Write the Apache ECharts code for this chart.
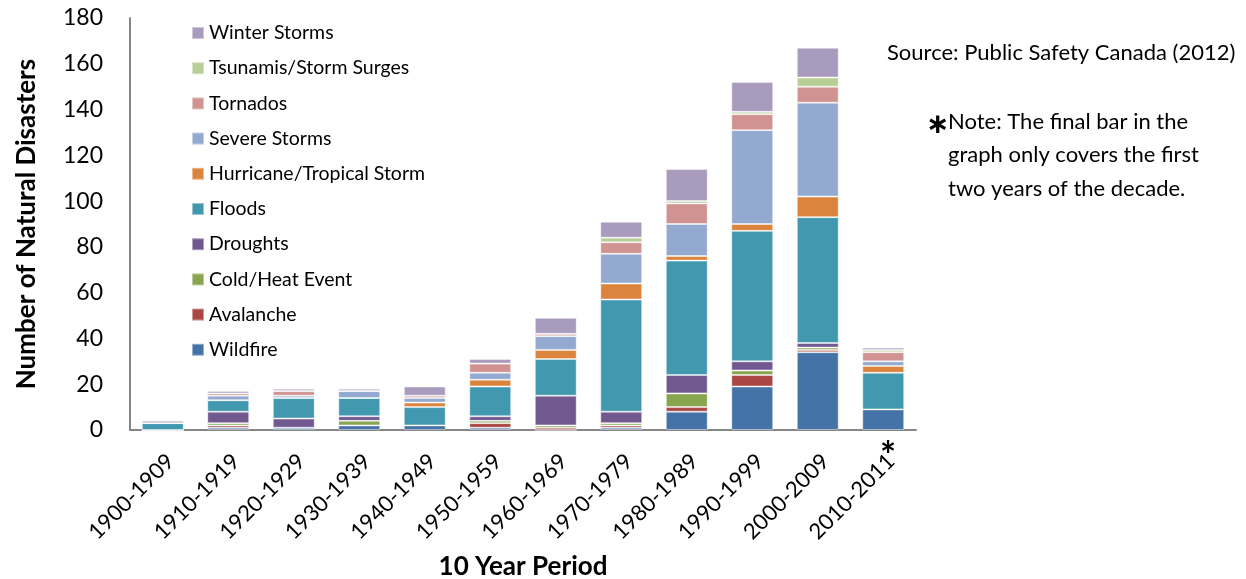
<!DOCTYPE html>
<html>
<head>
<meta charset="utf-8">
<script src="https://cdn.jsdelivr.net/npm/echarts@6/dist/echarts.min.js"></script>
<style>
html,body{margin:0;padding:0;background:#fff;}
#chart{width:1246px;height:579px;}
</style>
</head>
<body>
<div id="chart"></div>
<script>
const categories = ['1900-1909','1910-1919','1920-1929','1930-1939','1940-1949','1950-1959','1960-1969','1970-1979','1980-1989','1990-1999','2000-2009','2010-2011'];
const wildfire   = [0, 1, 1, 2, 2, 1, 0, 1, 8, 19, 34, 9];
const avalanche  = [0, 1, 0, 0, 0, 2, 1, 1, 2, 5, 1, 0];
const coldHeat   = [0, 1, 0, 2, 0, 1, 1, 1, 6, 2, 1, 0];
const droughts   = [0, 5, 4, 2, 0, 2, 13, 5, 8, 4, 2, 0];
const floods     = [3, 5, 9, 8, 8, 13, 16, 49, 50, 57, 55, 16];
const hurricane  = [0, 0, 0, 0, 2, 3, 4, 7, 2, 3, 9, 3];
const severe     = [0, 2, 1, 3, 2, 3, 6, 13, 14, 41, 41, 2];
const tornados   = [0, 1, 2, 0, 1, 4, 1, 5, 9, 7, 7, 4];
const tsunamis   = [0, 0, 0, 0, 0, 0, 0, 2, 1, 1, 4, 1];
const winter     = [1, 1, 1, 1, 4, 2, 7, 7, 14, 13, 13, 1];
const yTicks = [0, 20, 40, 60, 80, 100, 120, 140, 160, 180];

const seriesDefs = [
  ['Wildfire', wildfire, '#4572A7'],
  ['Avalanche', avalanche, '#AA4643'],
  ['Cold/Heat Event', coldHeat, '#89A54E'],
  ['Droughts', droughts, '#71588F'],
  ['Floods', floods, '#4198AF'],
  ['Hurricane/Tropical Storm', hurricane, '#DB843D'],
  ['Severe Storms', severe, '#93A9CF'],
  ['Tornados', tornados, '#D19392'],
  ['Tsunamis/Storm Surges', tsunamis, '#B9CD96'],
  ['Winter Storms', winter, '#A99BBD']
];

const FONT = 'Lato, "Open Sans", sans-serif';
const chart = echarts.init(document.getElementById('chart'), null, {renderer: 'canvas'});

const option = {
  backgroundColor: '#fff',
  animation: false,
  textStyle: {fontFamily: FONT},
  grid: {left: 130, right: 330, top: 18, bottom: 149, containLabel: false, outerBoundsMode: 'none'},
  legend: {
    orient: 'vertical',
    left: 186,
    top: 17,
    itemWidth: 12,
    itemHeight: 12,
    itemGap: 13.2,
    icon: 'rect',
    data: seriesDefs.map(d => d[0]).reverse(),
    textStyle: {fontFamily: FONT, fontSize: 19.5, color: '#000', lineHeight: 22}
  },
  xAxis: {
    type: 'category',
    data: categories,
    name: '10 Year Period',
    nameLocation: 'middle',
    nameGap: 124,
    nameTextStyle: {fontFamily: FONT, fontSize: 26, fontWeight: 'bold', color: '#000'},
    axisLine: {show: true, lineStyle: {color: '#868686', width: 2}},
    axisTick: {show: false},
    axisLabel: {rotate: 45, fontSize: 22, color: '#000', margin: 20, verticalAlign: 'top', fontFamily: FONT, interval: 0}
  },
  yAxis: {
    type: 'value',
    min: yTicks[0],
    max: yTicks[yTicks.length - 1],
    interval: yTicks[1] - yTicks[0],
    name: 'Number of Natural Disasters',
    nameLocation: 'middle',
    nameGap: 90,
    nameTextStyle: {fontFamily: FONT, fontSize: 26, fontWeight: 'bold', color: '#000'},
    axisLine: {show: true, lineStyle: {color: '#868686', width: 2}},
    axisTick: {show: false},
    splitLine: {show: false},
    axisLabel: {fontSize: 23, color: '#000', margin: 27, fontFamily: FONT}
  },
  series: seriesDefs.map(d => ({
    name: d[0],
    type: 'bar',
    stack: 'total',
    data: d[1],
    barCategoryGap: '36%',
    itemStyle: {color: d[2], borderColor: 'rgba(255,255,255,0.45)', borderWidth: 1},
    emphasis: {disabled: true}
  })),
  graphic: [
    {type: 'text', left: 887, top: 42, style: {text: 'Source: Public Safety Canada (2012)', font: '22px ' + FONT, fill: '#000'}},
    {type: 'text', left: 926, top: 112, style: {text: '\u2217', font: 'bold 28px "DejaVu Sans", sans-serif', fill: '#000'}},
    {type: 'text', left: 948, top: 105, style: {text: 'Note: The final bar in the\ngraph only covers the first\ntwo years of the decade.', font: '22px ' + FONT, fill: '#000', lineHeight: 33.5}},
    {type: 'text', left: 880, top: 438, style: {text: '*', font: 'bold 38px ' + FONT, fill: '#000'}}
  ]
};
chart.setOption(option);
</script>
</body>
</html>
